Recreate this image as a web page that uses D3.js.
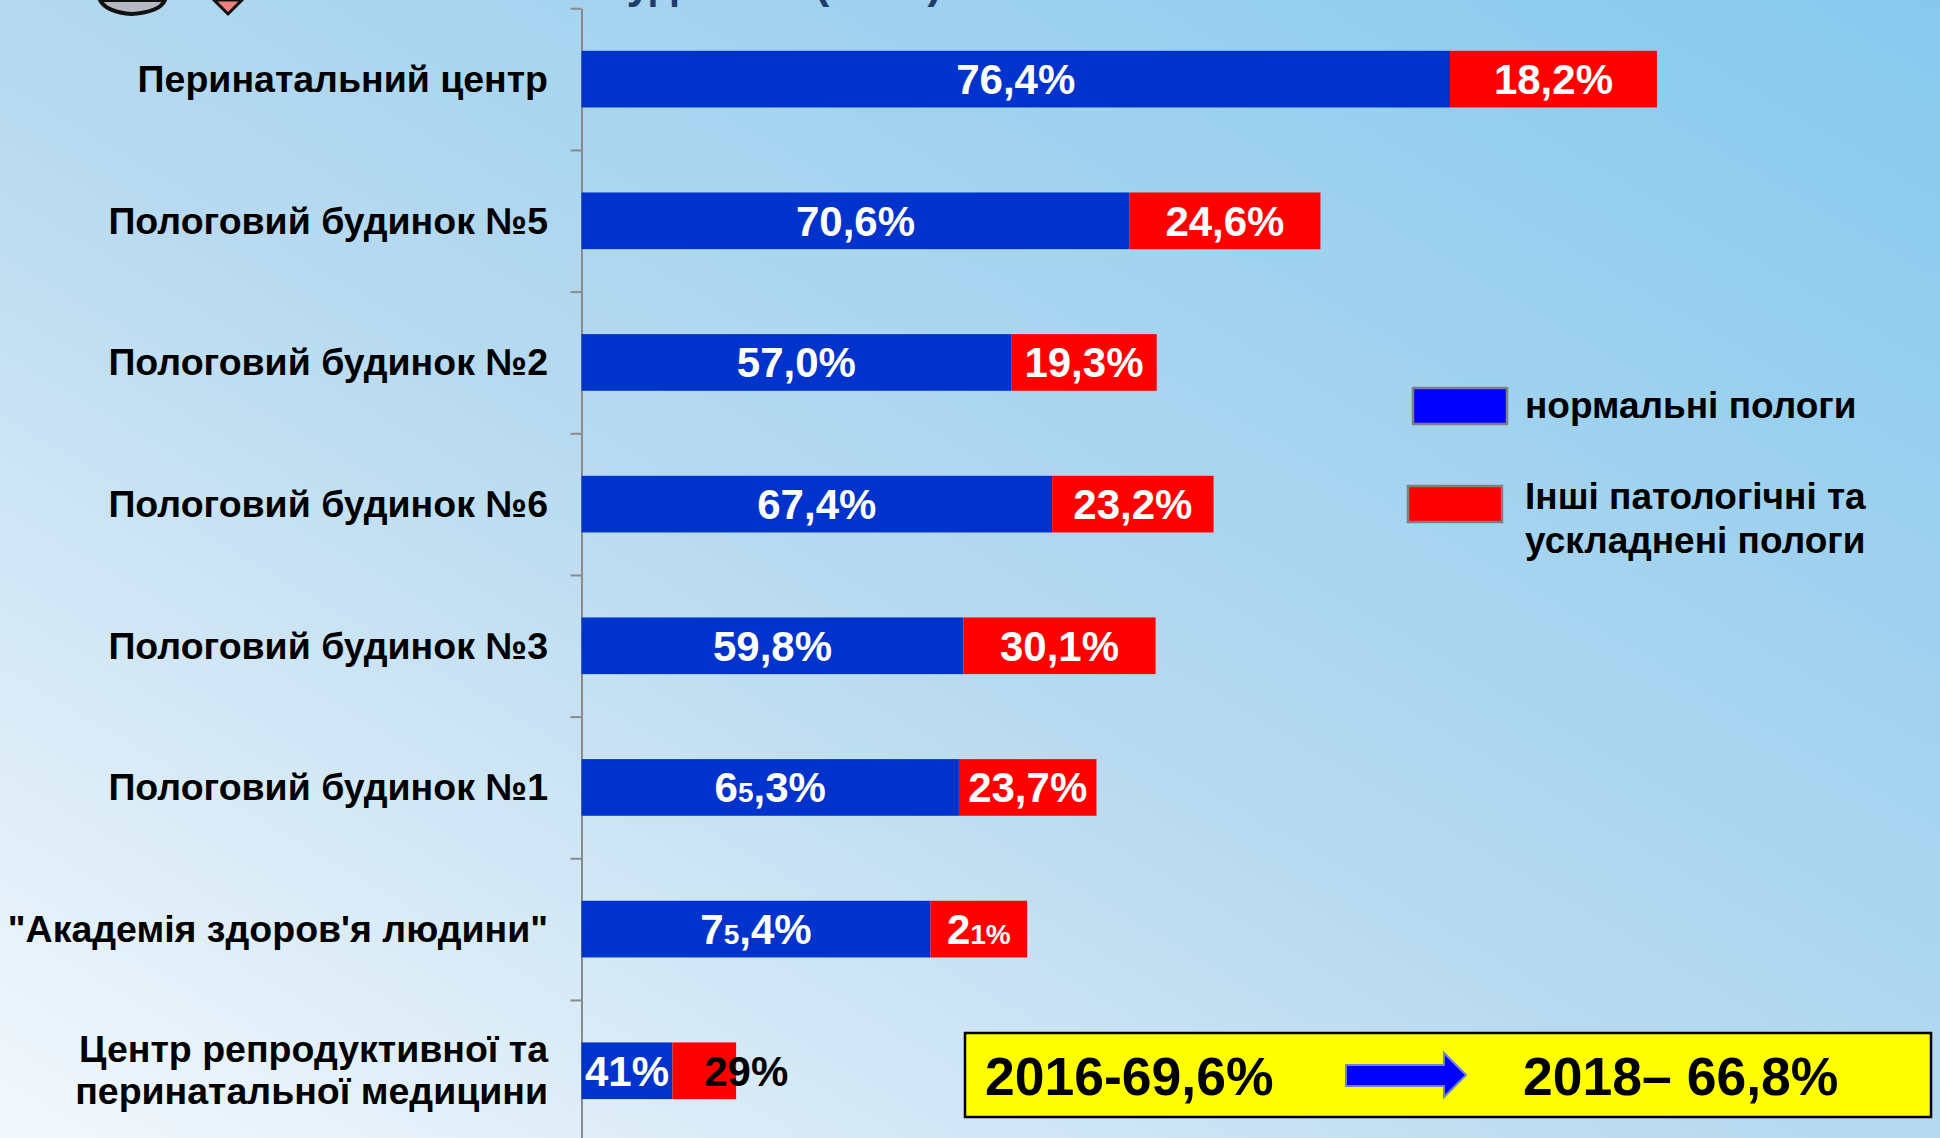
<!DOCTYPE html>
<html>
<head>
<meta charset="utf-8">
<script src="https://cdn.jsdelivr.net/npm/d3@7"></script>
<style>
  html, body { margin: 0; padding: 0; overflow: hidden; }
  svg { display: block; font-family: "Liberation Sans", Arial, sans-serif; font-weight: bold; }
</style>
</head>
<body>
<div id="chart"></div>
<script>
// categories, top to bottom
var categories = [
  "Перинатальний центр",
  "Пологовий будинок №5",
  "Пологовий будинок №2",
  "Пологовий будинок №6",
  "Пологовий будинок №3",
  "Пологовий будинок №1",
  "\"Академія здоров'я людини\"",
  "Центр репродуктивної та\nперинатальної медицини"
];
// bar lengths as drawn on the slide (axis units)
var normalLen = [76.4, 48.2, 37.8, 41.4, 33.6, 33.2, 30.7, 8.0];
var otherLen  = [18.2, 16.8, 12.8, 14.2, 16.9, 12.1, 8.5, 5.6];
// labels typed on the bars, {..} = smaller glyphs
var normalLabels = ["76,4%", "70,6%", "57,0%", "67,4%", "59,8%", "6{5},3%", "7{5},4%", "41%"];
var otherLabels  = ["18,2%", "24,6%", "19,3%", "23,2%", "30,1%", "23,7%", "2{1%}", "29%"];
var seriesNames = ["нормальні пологи", "Інші патологічні та\nускладнені пологи"];
var seriesColors = ["#0033cc", "#ff0000"];
var legendColors = ["#0000ff", "#ff0000"];
var summary = ["2016-69,6%", "2018– 66,8%"];
var titleText = "будинках (2018)";

var W = 1940, H = 1138;

var svg = d3.select("#chart").append("svg")
  .attr("width", W).attr("height", H);

// background
var defs = svg.append("defs");
var grad = defs.append("linearGradient").attr("id", "bg")
  .attr("x1", 0).attr("y1", 1).attr("x2", 1).attr("y2", 0);
grad.append("stop").attr("offset", 0).attr("stop-color", "#f3f8fd");
grad.append("stop").attr("offset", 0.45).attr("stop-color", "#b8daf0");
grad.append("stop").attr("offset", 1).attr("stop-color", "#86c9ee");
svg.append("rect").attr("width", W).attr("height", H).attr("fill", "url(#bg)");

// bits of the slide header cut off at the top
svg.append("text").attr("x", 600).attr("y", -2)
  .attr("font-size", 44).attr("fill", "#1f3d6b").text(titleText);
svg.append("path").attr("d", "M100,0 L165,0 Q160,12 132,14 Q106,12 100,0 Z")
  .attr("fill", "#b6b9c4").attr("stroke", "#111").attr("stroke-width", 4);
svg.append("path").attr("d", "M214,0 L242,0 L228,14 Z")
  .attr("fill", "#f08080").attr("stroke", "#111").attr("stroke-width", 3);

// scales
var x = d3.scaleLinear().domain([0, 100]).range([581.5, 1718.3]);
var y = d3.scaleBand().domain(categories)
  .range([8.3, 1141.6]).paddingInner(0.6).paddingOuter(0.3);
var yEdge = d3.scaleLinear().domain([0, categories.length]).range([8.3, 1141.6]);

// axis with ticks between categories
var axisG = svg.append("g")
  .attr("transform", "translate(" + x(0) + ",0)")
  .call(d3.axisLeft(yEdge).ticks(categories.length).tickSize(11)
    .tickSizeOuter(0).tickFormat(""));
axisG.select(".domain").attr("stroke", "#8a8a8a").attr("stroke-width", 2);
axisG.selectAll(".tick line").attr("stroke", "#8a8a8a").attr("stroke-width", 2);

// category labels
categories.forEach(function(c) {
  var lines = c.split("\n");
  var cy = y(c) + y.bandwidth() / 2;
  var t = svg.append("text").attr("text-anchor", "end")
    .attr("font-size", 37.5).attr("fill", "#000");
  if (lines.length == 1) {
    t.attr("x", 548).attr("y", cy + 13).text(c);
  } else {
    lines.forEach(function(l, i) {
      t.append("tspan").attr("x", 548).attr("y", cy - 9 + i * 42).text(l);
    });
  }
});

// stacked bars
var rows = categories.map(function(c, i) {
  return [
    { cat: c, x0: 0, x1: normalLen[i], label: normalLabels[i], s: 0 },
    { cat: c, x0: normalLen[i], x1: normalLen[i] + otherLen[i], label: otherLabels[i], s: 1 }
  ];
});
var segs = d3.merge(rows);

svg.append("g").selectAll("rect")
  .data(segs).enter().append("rect")
  .attr("x", d => x(d.x0))
  .attr("y", d => y(d.cat))
  .attr("width", d => x(d.x1) - x(d.x0))
  .attr("height", y.bandwidth())
  .attr("fill", d => seriesColors[d.s]);

// value labels, with smaller glyphs inside {}
function addLabel(g, str) {
  str.split(/(\{[^}]*\})/).forEach(function(p) {
    if (!p) return;
    if (p[0] == "{") g.append("tspan").attr("font-size", 28).text(p.slice(1, -1));
    else g.append("tspan").text(p);
  });
}
segs.forEach(function(d) {
  var cx = (x(d.x0) + x(d.x1)) / 2;
  var t = svg.append("text")
    .attr("font-size", 42)
    .attr("y", y(d.cat) + y.bandwidth() / 2 + 15);
  addLabel(t, d.label);
  var w = t.node().getComputedTextLength();
  if (w > x(d.x1) - x(d.x0)) {
    t.attr("x", cx).attr("text-anchor", "start").attr("fill", "#000");
  } else {
    t.attr("x", cx).attr("text-anchor", "middle").attr("fill", "#fff");
  }
});

// legend
var legY = [388, 486];
var legX = [1413, 1408];
seriesNames.forEach(function(n, i) {
  svg.append("rect").attr("x", legX[i]).attr("y", legY[i])
    .attr("width", 94).attr("height", 36)
    .attr("fill", legendColors[i]).attr("stroke", "#7f7f7f").attr("stroke-width", 2.5);
  var t = svg.append("text").attr("font-size", 37).attr("fill", "#000");
  n.split("\n").forEach(function(l, j) {
    t.append("tspan").attr("x", 1525)
      .attr("y", (i == 0 ? 418 : 509) + j * 44).text(l);
  });
});

// yellow summary box
svg.append("rect").attr("x", 965).attr("y", 1033)
  .attr("width", 966).attr("height", 84)
  .attr("fill", "#ffff00").attr("stroke", "#000").attr("stroke-width", 2.5);
svg.append("text").attr("x", 985).attr("y", 1095)
  .attr("font-size", 53.5).attr("fill", "#000").text(summary[0]);
svg.append("text").attr("x", 1523).attr("y", 1095)
  .attr("font-size", 53.5).attr("fill", "#000").text(summary[1]);
svg.append("path")
  .attr("d", "M1346,1065 L1444,1065 L1444,1053 L1466,1075 L1444,1097 L1444,1086 L1346,1086 Z")
  .attr("fill", "#0000ff").attr("stroke", "#6f7fd6").attr("stroke-width", 2);
</script>
</body>
</html>
